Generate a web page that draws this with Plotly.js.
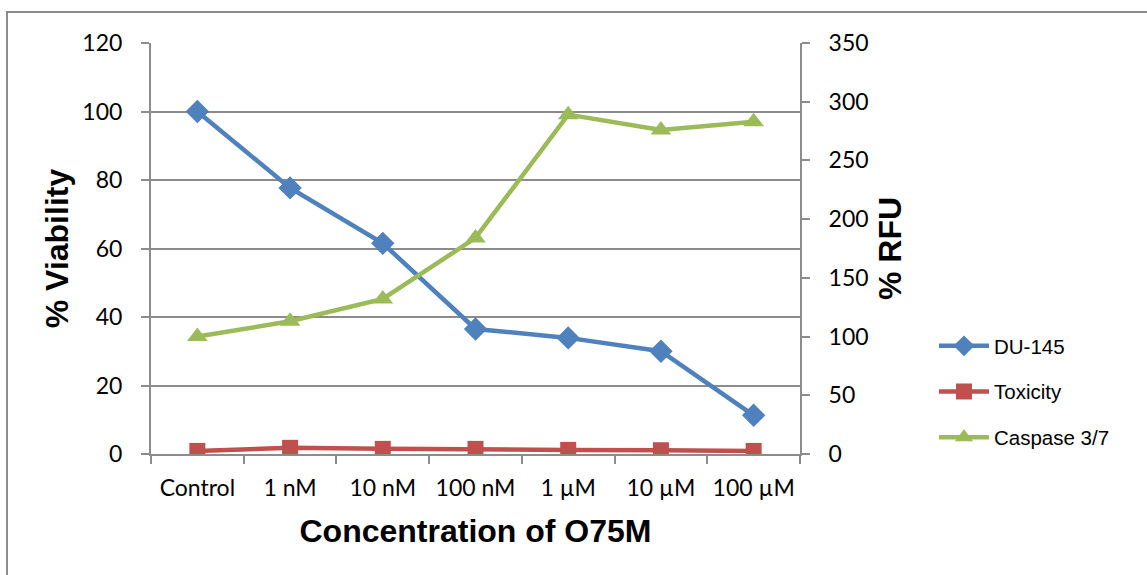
<!DOCTYPE html>
<html>
<head>
<meta charset="utf-8">
<script src="https://cdn.plot.ly/plotly-3.0.1.min.js"></script>
<style>html,body{margin:0;padding:0;background:#fff;}#chart{width:1147px;height:575px;}</style>
</head>
<body>
<div id="chart"></div>
<script>
const categories = ["Control", "1 nM", "10 nM", "100 nM", "1 µM", "10 µM", "100 µM"];
const du145 = [100, 77.7, 61.5, 36.5, 33.9, 30.0, 11.3];
const toxicity = [0.9, 1.8, 1.5, 1.5, 1.2, 1.1, 0.9];
const caspase = [100, 113, 132, 184, 289, 276, 283];
const leftTicks = [0, 20, 40, 60, 80, 100, 120];
const rightTicks = [0, 50, 100, 150, 200, 250, 300, 350];

const tickFont = {family: "Lato, 'Open Sans', sans-serif", size: 23, color: "#000"};
const titleFont = {family: "Liberation Sans, Arial, sans-serif", size: 32, color: "#000", weight: "bold"};
const axisGray = "#8c8c8c";

const traces = [
  {x: categories, y: du145, name: "DU-145", type: "scatter", mode: "lines+markers",
   legendgroup: "a",
   line: {color: "#4F81BD", width: 4.5}, marker: {symbol: "diamond", size: 18, color: "#4F81BD"}},
  {x: categories, y: toxicity, name: "Toxicity", type: "scatter", mode: "lines+markers",
   legendgroup: "b",
   line: {color: "#C0504D", width: 4.5}, marker: {symbol: "square", size: 16, color: "#C0504D"}},
  {x: categories, y: caspase, name: "Caspase 3/7", type: "scatter", mode: "lines+markers", yaxis: "y2",
   legendgroup: "c",
   line: {color: "#9BBB59", width: 4.5}, marker: {symbol: "triangle-up", size: 18, color: "#9BBB59"}}
];

const W = 649, H = 411, L = 151, T = 43;
function px(x){ return (x - L) / W; }
function py(y){ return (T + H - y) / H; }

const layout = {
  width: 1147, height: 575,
  margin: {l: 151, r: 347, t: 43, b: 121},
  paper_bgcolor: "#fff", plot_bgcolor: "#fff",
  showlegend: true,
  legend: {x: px(934), y: py(326), xanchor: "left", yanchor: "top",
    font: {family: "Liberation Sans, Arial, sans-serif", size: 20.5, color: "#000"},
    tracegroupgap: 16, itemwidth: 50, bgcolor: "rgba(0,0,0,0)"},
  xaxis: {type: "category", range: [-0.5, 6.5], tickson: "boundaries",
    ticks: "outside", ticklen: 8, tickcolor: axisGray, tickwidth: 2,
    showline: true, linecolor: axisGray, linewidth: 2, showgrid: false,
    tickfont: tickFont, ticklabelstandoff: 12, automargin: false,
    title: {text: "Concentration of O75M", font: titleFont, standoff: 20}},
  yaxis: {range: [0, 120], tickvals: leftTicks, ticks: "outside", ticklen: 8,
    tickcolor: axisGray, tickwidth: 2, showline: true, linecolor: axisGray, linewidth: 2,
    showgrid: true, gridcolor: axisGray, gridwidth: 2, zeroline: false,
    tickfont: tickFont, ticklabelstandoff: 14, automargin: false,
    title: {text: "% Viability", font: titleFont, standoff: 4}},
  yaxis2: {range: [0, 350], tickvals: rightTicks, overlaying: "y", side: "right",
    ticks: "outside", ticklen: 8, tickcolor: axisGray, tickwidth: 2,
    showline: true, linecolor: axisGray, linewidth: 2, showgrid: false, zeroline: false,
    tickfont: tickFont, ticklabelstandoff: 14, automargin: false,
    title: {text: "% RFU", font: titleFont, standoff: 11}},
  shapes: [{type: "rect", xref: "paper", yref: "paper",
    x0: px(7), x1: px(1160), y0: py(12), y1: py(590),
    line: {color: axisGray, width: 2}, fillcolor: "rgba(0,0,0,0)", layer: "below"}]
};

Plotly.newPlot("chart", traces, layout, {displayModeBar: false, staticPlot: true});
</script>
</body>
</html>
